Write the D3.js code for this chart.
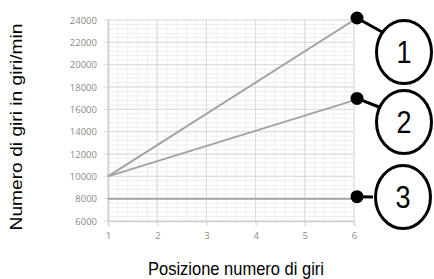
<!DOCTYPE html>
<html><head><meta charset="utf-8">
<script src="https://cdn.jsdelivr.net/npm/d3@7"></script>
<style>body{margin:0;background:#fff}svg{display:block}</style>
</head><body>
<svg id="c" width="434" height="279"></svg>
<script>
const positions = [1, 2, 3, 4, 5, 6];
const yTicks = [6000, 8000, 10000, 12000, 14000, 16000, 18000, 20000, 22000, 24000];
const series1 = [{x:1, y:10000}, {x:6, y:24000}];
const series2 = [{x:1, y:10000}, {x:6, y:16800}];
const series3 = [{x:1, y:8000}, {x:6, y:8000}];
const seriesList = [series1, series2, series3];
const labels = ["1", "2", "3"];
const yTitle = "Numero di giri in giri/min";
const xTitle = "Posizione numero di giri";

const svg = d3.select("#c");
const x = d3.scaleLinear().domain([1, 6]).range([108, 354]);
const y = d3.scaleLinear().domain([6000, 24000]).range([221, 20]);

// minor grid
const minorX = d3.range(1, 6.001, 0.2);
const minorY = d3.range(6000, 24001, 400);
const g = svg.append("g");
g.selectAll(".mx").data(minorX).join("line")
  .attr("x1", d => x(d)).attr("x2", d => x(d)).attr("y1", y(24000)).attr("y2", y(6000))
  .attr("stroke", "#eeeeee").attr("stroke-width", 1);
g.selectAll(".my").data(minorY).join("line")
  .attr("x1", x(1)).attr("x2", x(6)).attr("y1", d => y(d)).attr("y2", d => y(d))
  .attr("stroke", "#eeeeee").attr("stroke-width", 1);
// major grid
g.selectAll(".Mx").data(positions).join("line")
  .attr("x1", d => x(d)).attr("x2", d => x(d)).attr("y1", y(24000)).attr("y2", y(6000))
  .attr("stroke", "#dadada").attr("stroke-width", 1);
g.selectAll(".My").data(yTicks).join("line")
  .attr("x1", x(1) - 4).attr("x2", x(6)).attr("y1", d => y(d)).attr("y2", d => y(d))
  .attr("stroke", "#dadada").attr("stroke-width", 1);

// axes
const xAxis = svg.append("g").attr("transform", `translate(0,${y(6000)})`)
  .call(d3.axisBottom(x).tickValues(positions).tickFormat(d3.format("d")).tickSize(5).tickPadding(6));
const yAxis = svg.append("g").attr("transform", `translate(${x(1)},0)`)
  .call(d3.axisLeft(y).tickValues(yTicks).tickFormat(d => d).tickSize(0).tickPadding(11));
[xAxis, yAxis].forEach(a => {
  a.select(".domain").attr("stroke", "#cfcfcf").attr("stroke-width", 1.5);
  a.selectAll(".tick line").attr("stroke", "#cfcfcf");
  a.selectAll("text").attr("fill", "#8a8a8a").attr("font-size", 9.5)
    .attr("font-family", "'Open Sans', 'Liberation Sans', sans-serif");
});

// lines
const line = d3.line().x(d => x(d.x)).y(d => y(d.y));
svg.selectAll(".ser").data(seriesList).join("path")
  .attr("d", line).attr("fill", "none").attr("stroke", "#a3a3a3").attr("stroke-width", 2);

// callouts
const bubbles = [
  {cx: 404, cy: 52, ex: 382, ey: 32},
  {cx: 404, cy: 122, ex: 379, ey: 107},
  {cx: 403, cy: 197, ex: 373, ey: 197}
];
seriesList.forEach((s, i) => {
  const end = s[s.length - 1];
  const dx = x(end.x) + 3, dy = y(end.y) - 2;
  const b = bubbles[i];
  svg.append("line").attr("x1", dx).attr("y1", dy).attr("x2", b.ex).attr("y2", b.ey)
    .attr("stroke", "#000").attr("stroke-width", 3);
  svg.append("circle").attr("cx", dx).attr("cy", dy).attr("r", 6.5).attr("fill", "#000");
  svg.append("ellipse").attr("cx", b.cx).attr("cy", b.cy).attr("rx", 27.5).attr("ry", 31.5)
    .attr("fill", "#fff").attr("stroke", "#000").attr("stroke-width", 3);
  svg.append("text").attr("transform", `translate(${b.cx},${b.cy + 11}) scale(1,1.15)`)
    .attr("text-anchor", "middle").attr("font-size", 27)
    .attr("font-family", "'Liberation Sans', Arial, sans-serif").attr("fill", "#000")
    .text(labels[i]);
});

// titles
svg.append("text").attr("transform", "translate(22,127) scale(1,1.13) rotate(-90)")
  .attr("text-anchor", "middle").attr("font-size", 17)
  .attr("font-family", "'Liberation Sans', Arial, sans-serif").attr("fill", "#000")
  .text(yTitle);
svg.append("text").attr("transform", "translate(236,275) scale(1,1.15)")
  .attr("text-anchor", "middle").attr("font-size", 16.5)
  .attr("font-family", "'Liberation Sans', Arial, sans-serif").attr("fill", "#000")
  .text(xTitle);
</script>
</body></html>
